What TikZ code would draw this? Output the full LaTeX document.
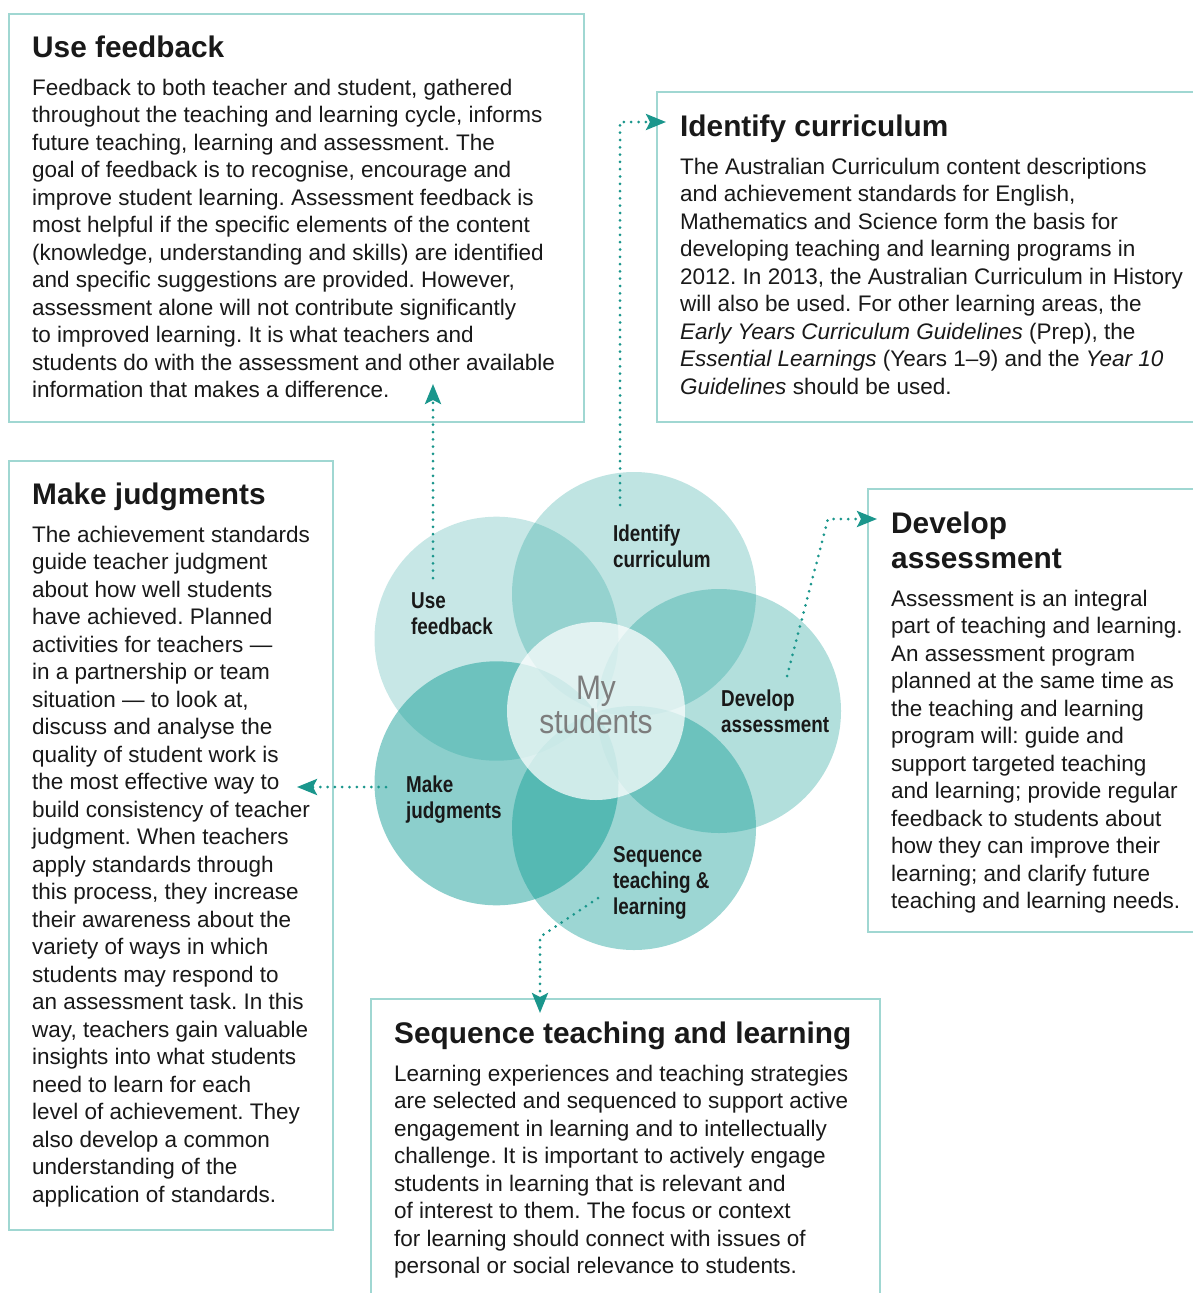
\documentclass[tikz,border=0pt]{standalone}
\usepackage{fontspec}
\usepackage{graphicx}
\setmainfont{Liberation Sans}
\usetikzlibrary{calc,arrows.meta}
\definecolor{petalcol}{RGB}{0,150,142}
\definecolor{framecol}{RGB}{160,215,210}
\definecolor{dotcol}{RGB}{26,150,140}
\definecolor{midgray}{RGB}{125,125,125}
\definecolor{ink}{RGB}{25,25,25}
\newcommand\lines[1]{\begin{tabular}[t]{@{}l@{}}#1\end{tabular}}
\newcommand\narrow[1]{\scalebox{0.82}[1]{#1}}
\newcommand\leafsize{244pt}
\frenchspacing

\begin{document}
\begin{tikzpicture}[x=1pt,y=-1pt,text=ink,
  boxline/.style={draw=framecol,line width=2.5pt},
  headtxt/.style={anchor=base west,inner sep=0,font=\fontsize{29.8}{35}\selectfont\bfseries},
  bodytxt/.style={anchor=base west,inner sep=0,font=\fontsize{22.5}{27.5}\selectfont},
  leaf/.style={circle,inner sep=0,minimum size=\leafsize,fill=petalcol},
  tag/.style={anchor=base west,inner sep=0,font=\fontsize{23}{26}\selectfont\bfseries},
  link/.style={dotcol,line width=3pt,line cap=round,dash pattern=on 0pt off 7.3pt,
    -{Stealth[length=20pt,width=16pt,inset=4pt]}}]
\useasboundingbox (0,0) rectangle (1193,1293);
\clip (0,0) rectangle (1193,1293);
\fill[white] (0,0) rectangle (1193,1293);

\draw[boxline] (9,14) rectangle (584,422);
\draw[boxline] (657,92) rectangle (1210,422);
\draw[boxline] (9,461) rectangle (333,1230);
\draw[boxline] (868,489) rectangle (1210,932);
\draw[boxline] (371,999) rectangle (880,1310);

\node[headtxt] (hUF) at (32,57) {Use feedback};
\node[bodytxt] (bUF) at (32,95) {\lines{Feedback to both teacher and student, gathered\\
throughout the teaching and learning cycle, informs\\
future teaching, learning and assessment. The\\
goal of feedback is to recognise, encourage and\\
improve student learning. Assessment feedback is\\
most helpful if the specific elements of the content\\
(knowledge, understanding and skills) are identified\\
and specific suggestions are provided. However,\\
assessment alone will not contribute significantly\\
to improved learning. It is what teachers and\\
students do with the assessment and other available\\
information that makes a difference.}};

\node[headtxt] (hIC) at (680,136) {Identify curriculum};
\node[bodytxt] (bIC) at (680,174) {\lines{The Australian Curriculum content descriptions\\
and achievement standards for English,\\
Mathematics and Science form the basis for\\
developing teaching and learning programs in\\
2012. In 2013, the Australian Curriculum in History\\
will also be used. For other learning areas, the\\
\textit{Early Years Curriculum Guidelines} (Prep), the\\
\textit{Essential Learnings} (Years 1--9) and the \textit{Year 10}\\
\textit{Guidelines} should be used.}};

\node[headtxt] (hMJ) at (32,504) {Make judgments};
\node[bodytxt] (bMJ) at (32,542) {\lines{The achievement standards\\
guide teacher judgment\\
about how well students\\
have achieved. Planned\\
activities for teachers ---\\
in a partnership or team\\
situation --- to look at,\\
discuss and analyse the\\
quality of student work is\\
the most effective way to\\
build consistency of teacher\\
judgment. When teachers\\
apply standards through\\
this process, they increase\\
their awareness about the\\
variety of ways in which\\
students may respond to\\
an assessment task. In this\\
way, teachers gain valuable\\
insights into what students\\
need to learn for each\\
level of achievement. They\\
also develop a common\\
understanding of the\\
application of standards.}};

\node[headtxt] (hDA) at (891,533) {\lines{Develop\\assessment}};
\node[bodytxt] (bDA) at (891,606) {\lines{Assessment is an integral\\
part of teaching and learning.\\
An assessment program\\
planned at the same time as\\
the teaching and learning\\
program will: guide and\\
support targeted teaching\\
and learning; provide regular\\
feedback to students about\\
how they can improve their\\
learning; and clarify future\\
teaching and learning needs.}};

\node[headtxt] (hSL) at (394,1043) {Sequence teaching and learning};
\node[bodytxt] (bSL) at (394,1081) {\lines{Learning experiences and teaching strategies\\
are selected and sequenced to support active\\
engagement in learning and to intellectually\\
challenge. It is important to actively engage\\
students in learning that is relevant and\\
of interest to them. The focus or context\\
for learning should connect with issues of\\
personal or social relevance to students.}};

\node[leaf,fill opacity=0.22] (UF) at (496.5,638.7) {};
\node[leaf,fill opacity=0.25] (IC) at (634,594) {};
\node[leaf,fill opacity=0.30] (DA) at (719,711) {};
\node[leaf,fill opacity=0.39] (SL) at (634,828) {};
\node[leaf,fill opacity=0.45] (MJ) at (496.5,783.3) {};
\node[circle,inner sep=0,minimum size=178pt,fill=white,fill opacity=0.72] (MS) at (596,711) {};
\node[text=midgray,align=center,font=\fontsize{34}{29}\selectfont] (MSt) at (596,709)
  {\scalebox{0.88}[1]{\lines{\hfil My\hfil\\students}}};

\node[tag] (tUF) at (411,608) {\narrow{\lines{Use\\feedback}}};
\node[tag] (tIC) at (613,541) {\narrow{\lines{Identify\\curriculum}}};
\node[tag] (tDA) at (721,706) {\narrow{\lines{Develop\\assessment}}};
\node[tag] (tMJ) at (406,792) {\narrow{\lines{Make\\judgments}}};
\node[tag] (tSL) at (613,862) {\narrow{\lines{Sequence\\teaching \&\\learning}}};

\coordinate (a1) at (433,578);
\coordinate (b1) at (433,384);
\coordinate (a2) at (620,505);
\coordinate (b2) at (666,122);
\coordinate (a3) at (787,676);
\coordinate (b3) at (877,519);
\coordinate (a4) at (386,787);
\coordinate (b4) at (297,787);
\coordinate (a5) at (598,898);
\coordinate (b5) at (540,1013);
\draw[link] (a1)--(b1);
\draw[link] (a2)|-(b2);
\draw[link] (a3)--(828,519)--(b3);
\draw[link] (a4)--(b4);
\draw[link] (a5)--(540,937)--(b5);
\end{tikzpicture}
\end{document}
